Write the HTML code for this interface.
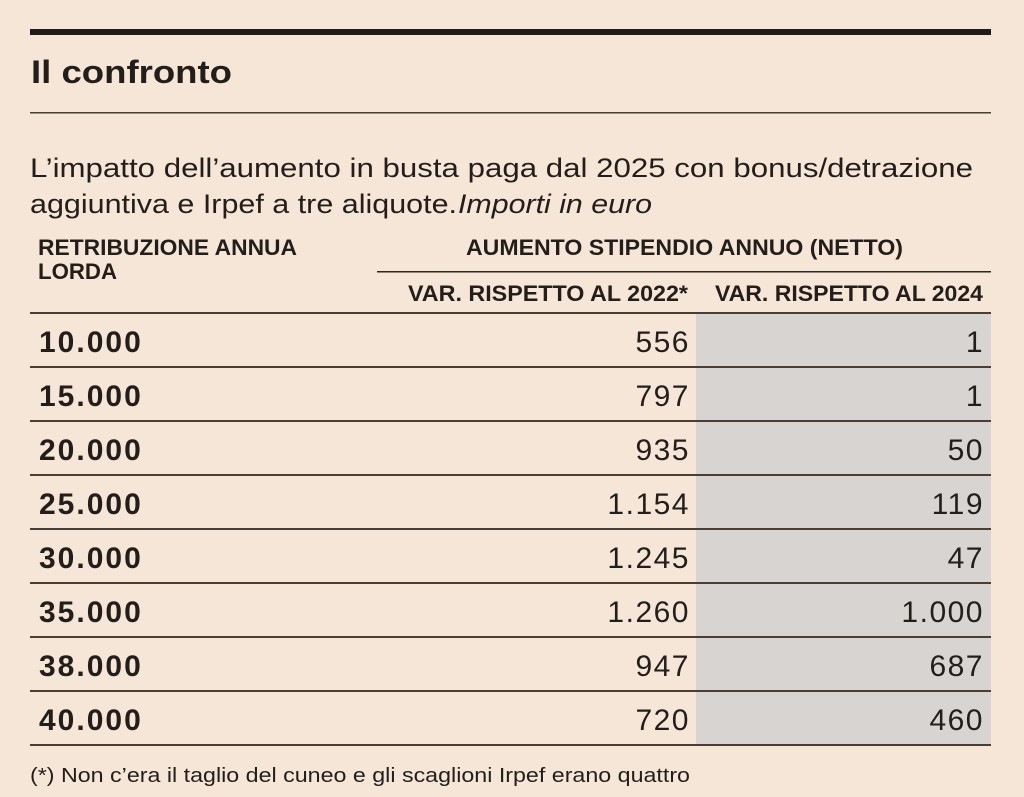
<!DOCTYPE html>
<html>
<head>
<meta charset="utf-8">
<style>
  html, body { margin:0; padding:0; background:#f5e6d8; }
  body { width:1024px; height:797px; overflow:hidden; }
  svg { display:block; }
  .t { font-family:"Liberation Sans", sans-serif; fill:#231e1a; }
</style>
</head>
<body>
<svg width="1024" height="797" viewBox="0 0 1024 797" xmlns="http://www.w3.org/2000/svg">
  <rect x="0" y="0" width="1024" height="797" fill="#f5e6d8"/>
  <!-- top thick bar -->
  <rect x="30" y="29" width="961" height="6" fill="#1e1b18"/>
  <!-- title -->
  <text class="t" x="31" y="83" font-size="32" font-weight="bold" textLength="201" lengthAdjust="spacingAndGlyphs">Il confronto</text>
  <!-- thin line -->
  <rect x="30" y="112" width="961" height="1.5" fill="#4a3d31"/>
  <!-- subtitle -->
  <text class="t" x="30" y="177" font-size="27" textLength="943" lengthAdjust="spacingAndGlyphs">L’impatto dell’aumento in busta paga dal 2025 con bonus/detrazione</text>
  <text class="t" x="30" y="213" font-size="27" textLength="427" lengthAdjust="spacingAndGlyphs">aggiuntiva e Irpef a tre aliquote.</text>
  <text class="t" x="458" y="213" font-size="27" font-style="italic" textLength="194" lengthAdjust="spacingAndGlyphs">Importi in euro</text>

  <!-- headers -->
  <text class="t" x="38" y="255" font-size="22" font-weight="bold" textLength="259" lengthAdjust="spacingAndGlyphs">RETRIBUZIONE ANNUA</text>
  <text class="t" x="38" y="279" font-size="22" font-weight="bold" textLength="79" lengthAdjust="spacingAndGlyphs">LORDA</text>
  <text class="t" x="466" y="255" font-size="22" font-weight="bold" textLength="437" lengthAdjust="spacingAndGlyphs">AUMENTO STIPENDIO ANNUO (NETTO)</text>
  <rect x="377" y="271" width="614" height="1.5" fill="#2e2620"/>
  <text class="t" x="408" y="301" font-size="22" font-weight="bold" textLength="280" lengthAdjust="spacingAndGlyphs">VAR. RISPETTO AL 2022*</text>
  <text class="t" x="715" y="301" font-size="22" font-weight="bold" textLength="268" lengthAdjust="spacingAndGlyphs">VAR. RISPETTO AL 2024</text>

  <!-- gray column -->
  <rect x="696" y="313" width="295" height="432" fill="#d7d4d1"/>

  <!-- row lines -->
  <g fill="#4a3d31">
    <rect x="30" y="312" width="961" height="2"/>
    <rect x="30" y="366" width="961" height="2"/>
    <rect x="30" y="420" width="961" height="2"/>
    <rect x="30" y="474" width="961" height="2"/>
    <rect x="30" y="528" width="961" height="2"/>
    <rect x="30" y="582" width="961" height="2"/>
    <rect x="30" y="636" width="961" height="2"/>
    <rect x="30" y="690" width="961" height="2"/>
    <rect x="30" y="744" width="961" height="2"/>
  </g>

  <!-- rows -->
  <g class="t" font-size="30">
    <text x="39" y="352" font-weight="bold" letter-spacing="2">10.000</text>
    <text x="39" y="406" font-weight="bold" letter-spacing="2">15.000</text>
    <text x="39" y="460" font-weight="bold" letter-spacing="2">20.000</text>
    <text x="39" y="514" font-weight="bold" letter-spacing="2">25.000</text>
    <text x="39" y="568" font-weight="bold" letter-spacing="2">30.000</text>
    <text x="39" y="622" font-weight="bold" letter-spacing="2">35.000</text>
    <text x="39" y="676" font-weight="bold" letter-spacing="2">38.000</text>
    <text x="39" y="730" font-weight="bold" letter-spacing="2">40.000</text>
  </g>
  <g class="t" font-size="30" text-anchor="end" letter-spacing="1.5">
    <text x="690" y="352">556</text>
    <text x="690" y="406">797</text>
    <text x="690" y="460">935</text>
    <text x="690" y="514">1.154</text>
    <text x="690" y="568">1.245</text>
    <text x="690" y="622">1.260</text>
    <text x="690" y="676">947</text>
    <text x="690" y="730">720</text>

    <text x="984" y="352">1</text>
    <text x="984" y="406">1</text>
    <text x="984" y="460">50</text>
    <text x="984" y="514">119</text>
    <text x="984" y="568">47</text>
    <text x="984" y="622">1.000</text>
    <text x="984" y="676">687</text>
    <text x="984" y="730">460</text>
  </g>

  <!-- footnote -->
  <text class="t" x="30" y="782" font-size="20" textLength="660" lengthAdjust="spacingAndGlyphs">(*) Non c’era il taglio del cuneo e gli scaglioni Irpef erano quattro</text>
</svg>
</body>
</html>
